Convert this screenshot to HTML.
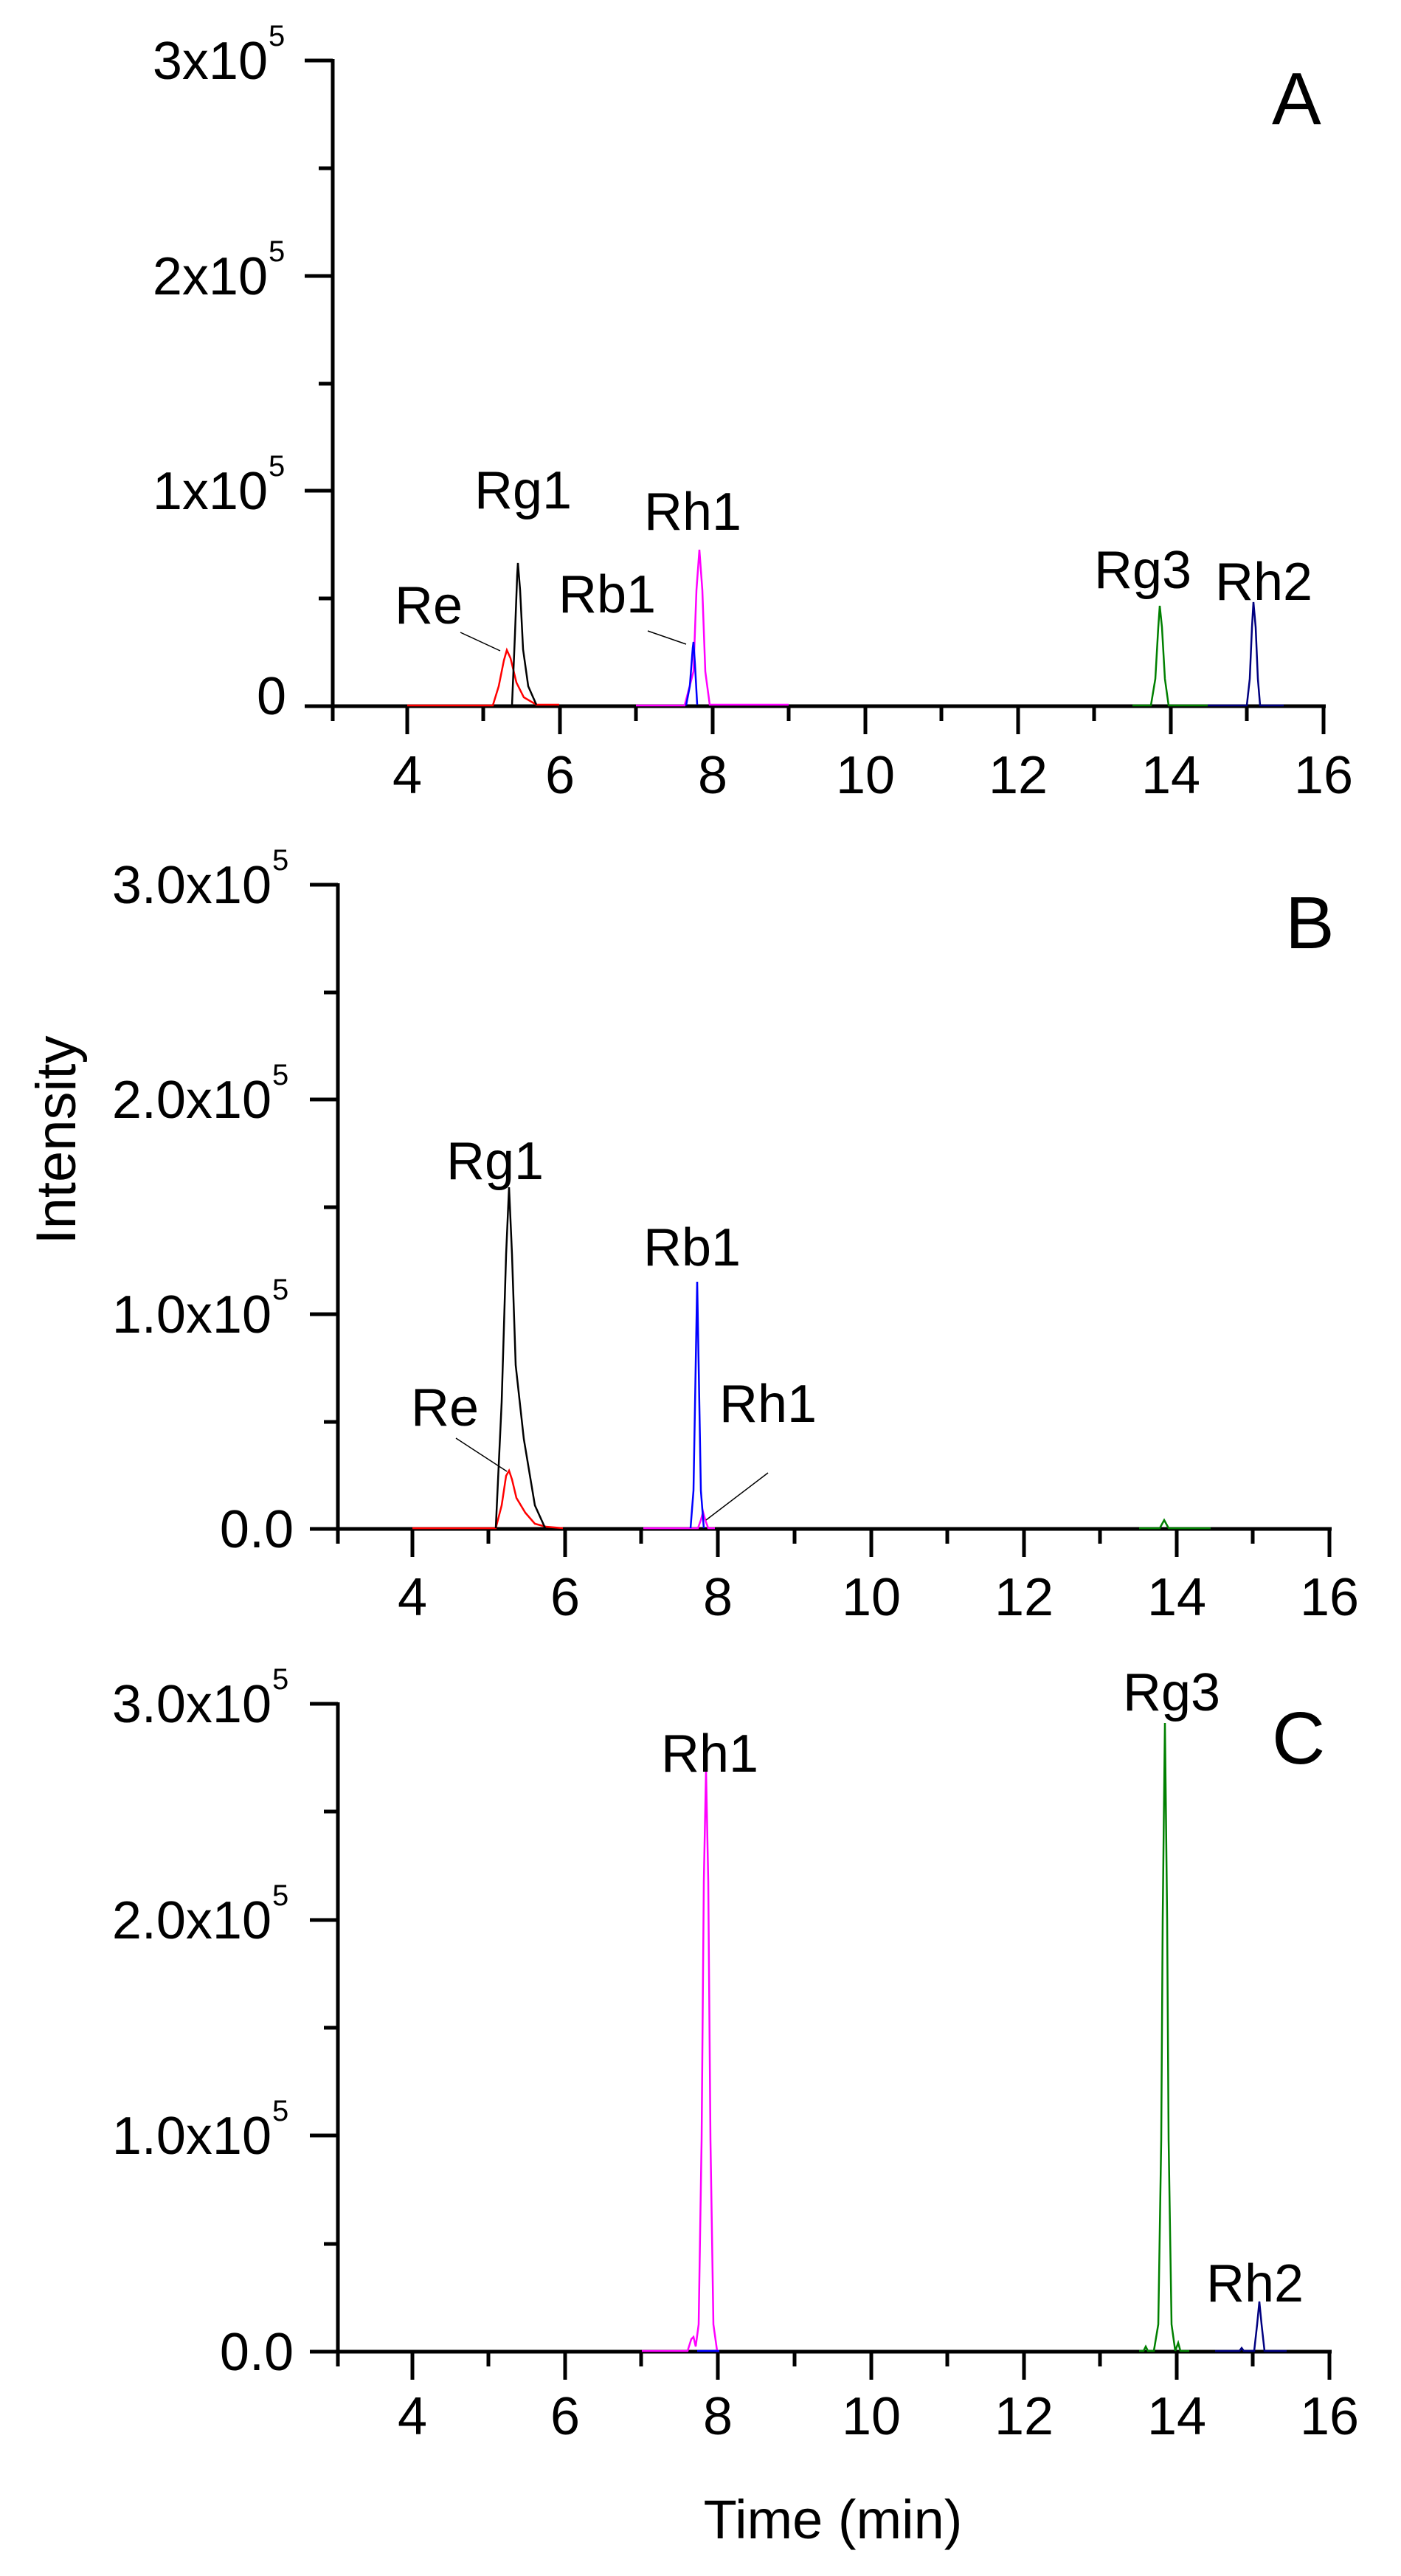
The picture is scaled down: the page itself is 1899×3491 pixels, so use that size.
<!DOCTYPE html>
<html><head><meta charset="utf-8"><style>
html,body{margin:0;padding:0;background:#fff;}
svg{display:block;}
text{font-family:"Liberation Sans",Arial,sans-serif;fill:#000;}
.t{font-size:72px;}
.s{font-size:40px;}
.L{font-size:100px;}
</style></head><body>
<svg width="1899" height="3491" viewBox="0 0 1899 3491" xmlns="http://www.w3.org/2000/svg">
<g stroke="#000" stroke-width="5" fill="none" stroke-linecap="butt">
<!-- Panel A axes -->
<line x1="451" y1="80" x2="451" y2="977"/>
<line x1="413" y1="957" x2="1797" y2="957"/>
<line x1="413" y1="82" x2="451" y2="82"/>
<line x1="413" y1="374" x2="451" y2="374"/>
<line x1="413" y1="665" x2="451" y2="665"/>
<line x1="432" y1="228" x2="451" y2="228"/>
<line x1="432" y1="520" x2="451" y2="520"/>
<line x1="432" y1="811" x2="451" y2="811"/>
<path d="M552 957V995M759 957V995M966 957V995M1173 957V995M1380 957V995M1587 957V995M1794 955V995"/>
<path d="M655 957V977M862 957V977M1069 957V977M1276 957V977M1483 957V977M1690 957V977"/>
<!-- Panel B axes -->
<line x1="458" y1="1197" x2="458" y2="2092"/>
<line x1="420" y1="2072" x2="1805" y2="2072"/>
<line x1="420" y1="1199" x2="458" y2="1199"/>
<line x1="420" y1="1490" x2="458" y2="1490"/>
<line x1="420" y1="1781" x2="458" y2="1781"/>
<line x1="439" y1="1345" x2="458" y2="1345"/>
<line x1="439" y1="1636" x2="458" y2="1636"/>
<line x1="439" y1="1927" x2="458" y2="1927"/>
<path d="M559 2072V2110M766 2072V2110M973 2072V2110M1181 2072V2110M1388 2072V2110M1595 2072V2110M1802 2070V2110"/>
<path d="M662 2072V2092M869 2072V2092M1077 2072V2092M1284 2072V2092M1491 2072V2092M1698 2072V2092"/>
<!-- Panel C axes -->
<line x1="458" y1="2307" x2="458" y2="3207"/>
<line x1="420" y1="3187" x2="1805" y2="3187"/>
<line x1="420" y1="2309" x2="458" y2="2309"/>
<line x1="420" y1="2602" x2="458" y2="2602"/>
<line x1="420" y1="2894" x2="458" y2="2894"/>
<line x1="439" y1="2455" x2="458" y2="2455"/>
<line x1="439" y1="2748" x2="458" y2="2748"/>
<line x1="439" y1="3041" x2="458" y2="3041"/>
<path d="M559 3187V3225M766 3187V3225M973 3187V3225M1181 3187V3225M1388 3187V3225M1595 3187V3225M1802 3185V3225"/>
<path d="M662 3187V3207M869 3187V3207M1077 3187V3207M1284 3187V3207M1491 3187V3207M1698 3187V3207"/>
</g>

<!-- Series A -->
<g fill="none" stroke-width="2.5">
<path stroke="#ff0000" d="M552 956H668L676 930L683 895L687 881L692 892L700 925L710 945L727 955H758"/>
<path stroke="#000" d="M694 956L698 860L701 780L702 763L705 800L709 880L716 930L727 955"/>
<path stroke="#ff00ff" d="M862 956H928L940 910L944 800L948 745L952 800L956 910L962 955H1069"/>
<path stroke="#0000ff" d="M930 956L935 930L939 878L940 870L942 900L945 955"/>
<path stroke="#008000" d="M1535 956H1560L1566 920L1570 850L1572 821L1575 850L1579 920L1584 956H1637"/>
<path stroke="#000080" d="M1637 956H1690L1694 920L1697 850L1699 816L1702 850L1705 920L1708 956H1740"/>
<path stroke="#000" stroke-width="1.5" d="M624 857L678 882M878 855L930 873"/>
</g>

<!-- Series B -->
<g fill="none" stroke-width="2.5">
<path stroke="#ff0000" d="M559 2071H672L680 2040L686 2000L690 1993L694 2005L700 2030L712 2050L725 2065L740 2069L763 2071"/>
<path stroke="#000" d="M672 2071L680 1900L686 1700L690 1609L694 1700L699 1850L710 1950L725 2040L739 2071"/>
<path stroke="#ff00ff" d="M872 2071H946L950 2060L953 2049L956 2060L960 2071H969"/>
<path stroke="#0000ff" d="M936 2071L940 2020L943 1850L945 1737L947 1850L950 2020L954 2071"/>
<path stroke="#008000" d="M1544 2071H1572L1578 2060L1584 2071H1641"/>
<path stroke="#000" stroke-width="1.5" d="M618 1949L687 1994M1041 1996L957 2060"/>
</g>

<!-- Series C -->
<g fill="none" stroke-width="2.5">
<path stroke="#ff00ff" d="M870 3186H932L937 3170L940 3167L943 3180L947 3150L951 2900L954 2550L957 2399L960 2550L963 2900L967 3150L972 3186H975"/>
<path stroke="#0000ff" d="M945 3186H975"/>
<path stroke="#008000" d="M1544 3186H1550L1553 3180L1556 3186H1564L1570 3150L1574 2900L1576 2600L1579 2335L1582 2600L1584 2900L1588 3150L1593 3186L1597 3175L1600 3186H1612"/>
<path stroke="#000080" d="M1647 3186H1680L1683 3182L1686 3186H1700L1704 3150L1707 3119L1710 3150L1714 3186H1744"/>
</g>

<!-- Y tick labels A -->
<g class="t" text-anchor="end">
<text x="363" y="107">3x10</text>
<text x="363" y="399">2x10</text>
<text x="363" y="690">1x10</text>
<text x="388" y="968">0</text>
</g>
<g class="s">
<text x="364" y="62">5</text>
<text x="364" y="354">5</text>
<text x="364" y="645">5</text>
</g>
<!-- Y tick labels B -->
<g class="t" text-anchor="end">
<text x="368" y="1224">3.0x10</text>
<text x="368" y="1515">2.0x10</text>
<text x="368" y="1806">1.0x10</text>
<text x="398" y="2097">0.0</text>
</g>
<g class="s">
<text x="369" y="1179">5</text>
<text x="369" y="1470">5</text>
<text x="369" y="1761">5</text>
</g>
<!-- Y tick labels C -->
<g class="t" text-anchor="end">
<text x="368" y="2334">3.0x10</text>
<text x="368" y="2627">2.0x10</text>
<text x="368" y="2919">1.0x10</text>
<text x="398" y="3212">0.0</text>
</g>
<g class="s">
<text x="369" y="2289">5</text>
<text x="369" y="2582">5</text>
<text x="369" y="2874">5</text>
</g>

<!-- X tick labels -->
<g class="t" text-anchor="middle">
<text x="552" y="1075">4</text><text x="759" y="1075">6</text><text x="966" y="1075">8</text><text x="1173" y="1075">10</text><text x="1380" y="1075">12</text><text x="1587" y="1075">14</text><text x="1794" y="1075">16</text>
<text x="559" y="2189">4</text><text x="766" y="2189">6</text><text x="973" y="2189">8</text><text x="1181" y="2189">10</text><text x="1388" y="2189">12</text><text x="1595" y="2189">14</text><text x="1802" y="2189">16</text>
<text x="559" y="3299">4</text><text x="766" y="3299">6</text><text x="973" y="3299">8</text><text x="1181" y="3299">10</text><text x="1388" y="3299">12</text><text x="1595" y="3299">14</text><text x="1802" y="3299">16</text>
</g>

<!-- Peak labels -->
<g class="t">
<text x="535" y="845">Re</text>
<text x="643" y="689">Rg1</text>
<text x="757" y="830">Rb1</text>
<text x="873" y="718">Rh1</text>
<text x="1483" y="797">Rg3</text>
<text x="1647" y="813">Rh2</text>

<text x="605" y="1598">Rg1</text>
<text x="557" y="1932">Re</text>
<text x="872" y="1715">Rb1</text>
<text x="975" y="1927">Rh1</text>

<text x="896" y="2401">Rh1</text>
<text x="1522" y="2318">Rg3</text>
<text x="1635" y="3119">Rh2</text>
</g>

<!-- Panel letters -->
<g class="L">
<text x="1724" y="168">A</text>
<text x="1742" y="1285">B</text>
<text x="1724" y="2390">C</text>
</g>

<!-- Axis titles -->
<text x="102" y="1545" font-size="76" text-anchor="middle" transform="rotate(-90 102 1545)">Intensity</text>
<text x="1129" y="3440" font-size="74" text-anchor="middle">Time (min)</text>
</svg>
</body></html>
